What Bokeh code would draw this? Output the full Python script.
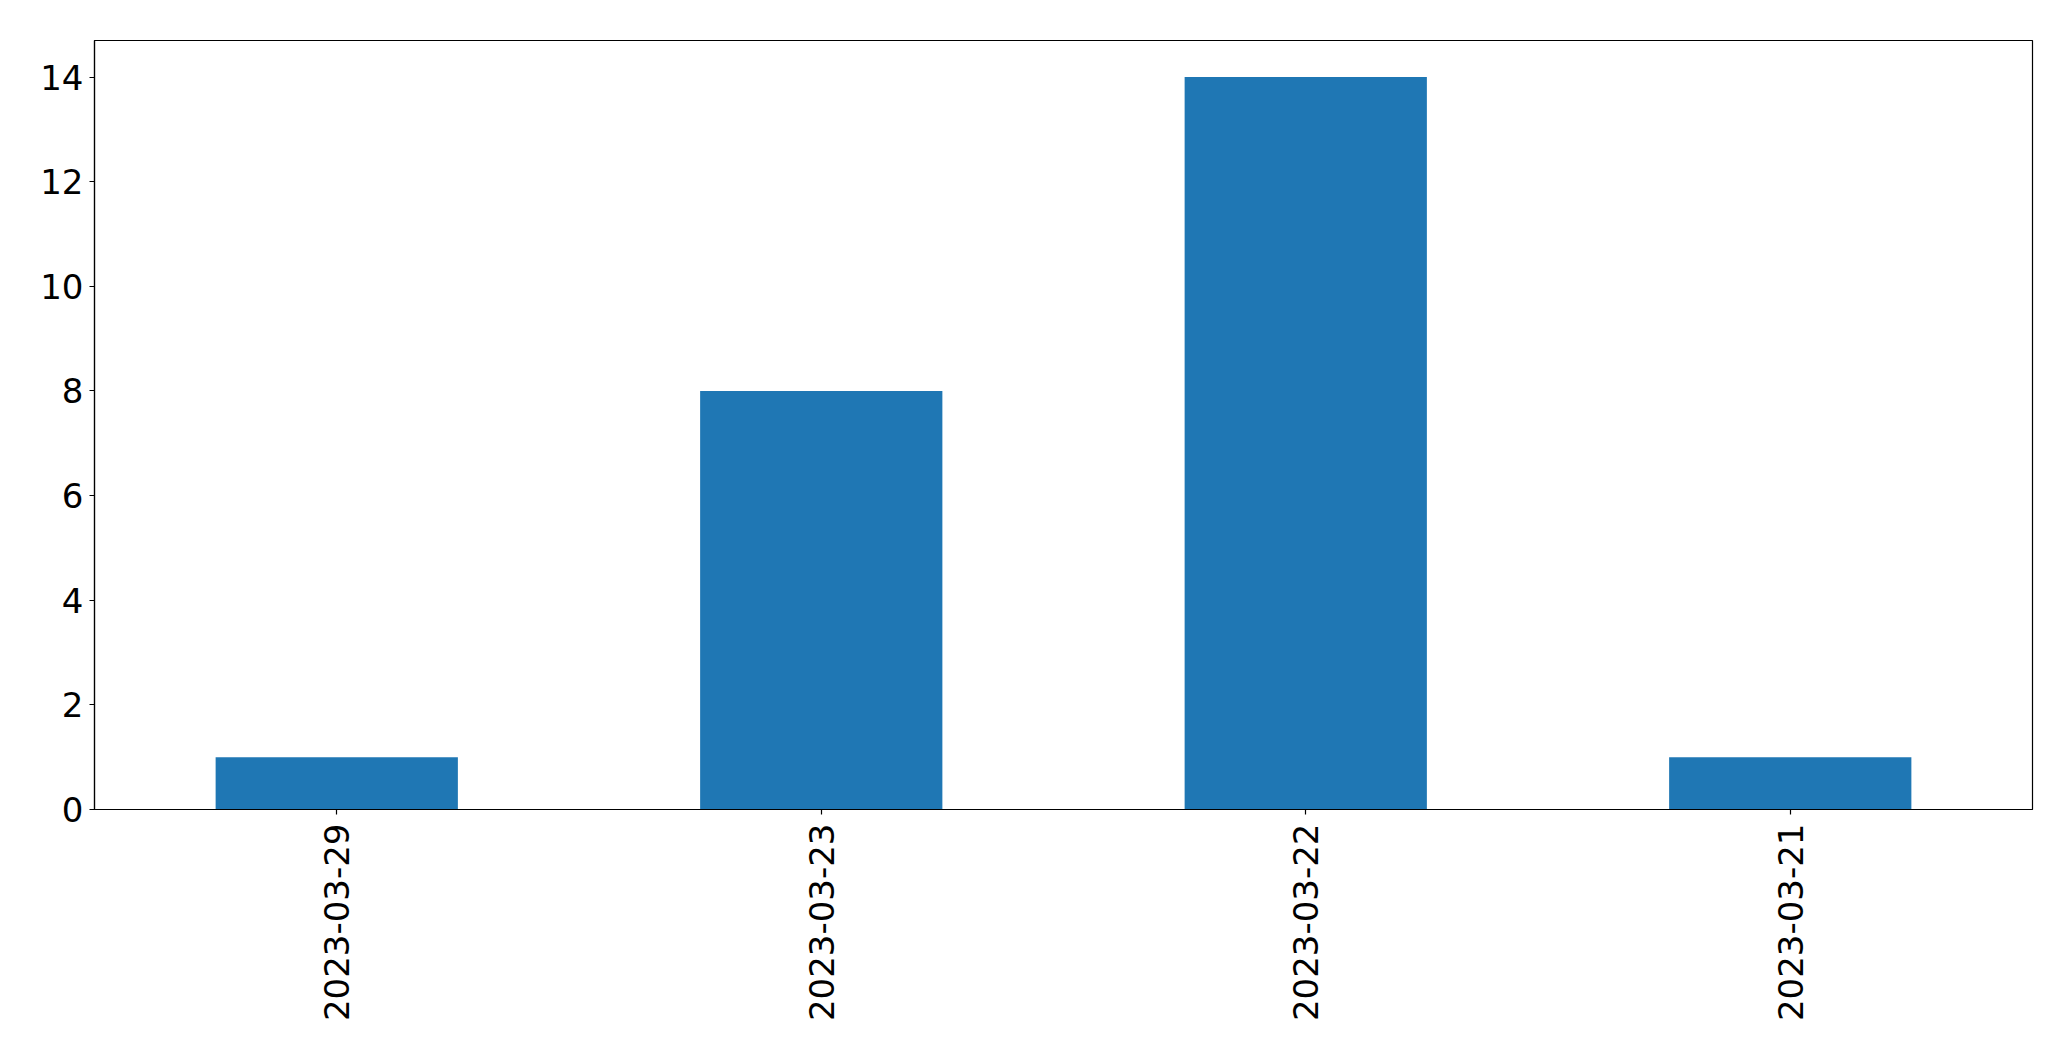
import math
from bokeh.plotting import figure
from bokeh.models import ColumnDataSource, FactorRange, Range1d, FixedTicker
from bokeh.embed import file_html
from bokeh.resources import INLINE

dates = ["2023-03-29", "2023-03-23", "2023-03-22", "2023-03-21"]
counts = [1, 8, 14, 1]
y_ticks = [0, 2, 4, 6, 8, 10, 12, 14]

src = ColumnDataSource(dict(date=dates, count=counts))

W, H = 2055, 1045
p = figure(width=W, height=H, x_range=FactorRange(*dates), y_range=Range1d(0, 14.7),
           output_backend="svg", toolbar_location=None,
           min_border_left=94, min_border_top=40, min_border_right=W - 2032,
           min_border_bottom=H - 809)
p.vbar(x="date", top="count", width=0.5, source=src, color="#1f77b4", line_color=None)

p.xgrid.visible = False
p.ygrid.visible = False
p.outline_line_color = "black"
p.outline_line_width = 1.2
p.outline_line_alpha = 1
p.background_fill_color = "white"
p.border_fill_color = "white"

for ax in (p.xaxis[0], p.yaxis[0]):
    ax.major_label_text_font = "DejaVu Sans"
    ax.major_label_text_font_size = "34px"
    ax.major_label_text_color = "black"
    ax.axis_line_color = "black"
    ax.axis_line_width = 1.2
    ax.major_tick_line_color = "black"
    ax.major_tick_line_width = 1.2
    ax.major_tick_out = 5
    ax.major_tick_in = 0
    ax.minor_tick_line_color = None

p.yaxis[0].ticker = FixedTicker(ticks=y_ticks)
p.yaxis[0].major_label_standoff = 6
p.xaxis[0].major_label_orientation = math.pi / 2
p.xaxis[0].major_label_standoff = 9

open("out.html", "w").write(file_html(p, INLINE))
